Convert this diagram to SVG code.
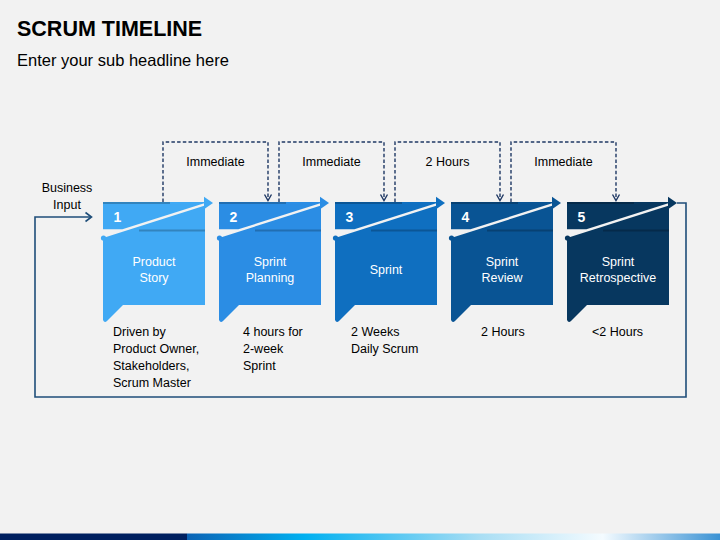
<svg xmlns="http://www.w3.org/2000/svg" xmlns:xlink="http://www.w3.org/1999/xlink" width="720" height="540" viewBox="0 0 720 540">
<style>
.title{font-family:"Liberation Sans",Arial,sans-serif;font-weight:bold;font-size:21.5px;fill:#000}
.sub{font-family:"Liberation Sans",Arial,sans-serif;font-size:16.5px;fill:#000}
.lbl{font-family:"Liberation Sans",Arial,sans-serif;font-size:12.5px;fill:#000}
.mid{text-anchor:middle}
.num{font-family:"Liberation Sans",Arial,sans-serif;font-weight:bold;font-size:14px;fill:#fff}
.in{font-family:"Liberation Sans",Arial,sans-serif;font-size:12.5px;fill:#fff;text-anchor:middle}
.dash{fill:none;stroke:#1f3864;stroke-width:1.4;stroke-dasharray:3.5 2.2}
.head{fill:none;stroke:#1f3864;stroke-width:1.4}
.fb{fill:none;stroke:#1f4e79;stroke-width:1.6}
.shade{stroke:#000;stroke-opacity:0.22;stroke-width:2}
</style>
<defs>
<linearGradient id="bar" x1="187" y1="0" x2="720" y2="0" gradientUnits="userSpaceOnUse">
<stop offset="0" stop-color="#0b63b5"/>
<stop offset="0.22" stop-color="#00b0f0"/>
<stop offset="0.55" stop-color="#a9def4"/>
<stop offset="0.78" stop-color="#f4fbff"/>
<stop offset="1" stop-color="#3a92d4"/>
</linearGradient>
<g id="card">
<polygon points="103,202 205,202 205,202.9 122.4,229.3 103,229.3" fill="currentColor"/>
<path d="M103,238 L205,205.4 L205,305 L123,305 L107,321 Q104.5,323.5 103,320 Z" fill="currentColor"/>
<polygon points="204,196.8 213,203 204,209.2" fill="currentColor"/>
<circle cx="103.5" cy="238" r="2.6" fill="currentColor"/>
<line x1="103" y1="203" x2="170" y2="203" class="shade"/>
<line x1="139" y1="230.5" x2="205" y2="230.5" class="shade"/>
</g>
</defs>
<rect width="720" height="540" fill="#f2f2f2"/>
<text x="17" y="36" class="title">SCRUM TIMELINE</text>
<text x="17" y="65.5" class="sub">Enter your sub headline here</text>

<g id="connectors">
<path class="fb" d="M677,203 H686 V397 H35 V217 H91"/>
<polyline class="fb" points="85.5,212.5 91.5,217 85.5,221.5"/>
<path class="dash" d="M163,202 V142 H268 V200"/>
<polyline class="head" points="264.5,194.5 268,200.5 271.5,194.5"/>
<path class="dash" d="M279,202 V142 H384 V200"/>
<polyline class="head" points="380.5,194.5 384,200.5 387.5,194.5"/>
<path class="dash" d="M395,202 V142 H500 V200"/>
<polyline class="head" points="496.5,194.5 500,200.5 503.5,194.5"/>
<path class="dash" d="M511,202 V142 H616 V200"/>
<polyline class="head" points="612.5,194.5 616,200.5 619.5,194.5"/>
<text x="215.5" y="165.5" class="lbl mid">Immediate</text>
<text x="331.5" y="165.5" class="lbl mid">Immediate</text>
<text x="447.5" y="165.5" class="lbl mid">2 Hours</text>
<text x="563.5" y="165.5" class="lbl mid">Immediate</text>
</g>

<g id="business-input">
<text x="67" y="191.5" class="lbl mid">Business</text>
<text x="67" y="208.5" class="lbl mid">Input</text>
</g>

<g id="node1" style="color:#40a9f4">
<use xlink:href="#card" href="#card"/>
<text x="113.5" y="222" class="num">1</text>
<text x="154" y="265.5" class="in">Product</text>
<text x="154" y="281.5" class="in">Story</text>
<text x="113" y="335.5" class="lbl">Driven by</text>
<text x="113" y="352.5" class="lbl">Product Owner,</text>
<text x="113" y="369.5" class="lbl">Stakeholders,</text>
<text x="113" y="386.5" class="lbl">Scrum Master</text>
</g>
<g id="node2" style="color:#2b8de4">
<use xlink:href="#card" href="#card" transform="translate(116,0)"/>
<text x="229.5" y="222" class="num">2</text>
<text x="270" y="265.5" class="in">Sprint</text>
<text x="270" y="281.5" class="in">Planning</text>
<text x="243" y="335.5" class="lbl">4 hours for</text>
<text x="243" y="352.5" class="lbl">2-week</text>
<text x="243" y="369.5" class="lbl">Sprint</text>
</g>
<g id="node3" style="color:#0f6fc0">
<use xlink:href="#card" href="#card" transform="translate(232,0)"/>
<text x="345.5" y="222" class="num">3</text>
<text x="386" y="273.5" class="in">Sprint</text>
<text x="351" y="335.5" class="lbl">2 Weeks</text>
<text x="351" y="352.5" class="lbl">Daily Scrum</text>
</g>
<g id="node4" style="color:#095494">
<use xlink:href="#card" href="#card" transform="translate(348,0)"/>
<text x="461.5" y="222" class="num">4</text>
<text x="502" y="265.5" class="in">Sprint</text>
<text x="502" y="281.5" class="in">Review</text>
<text x="481" y="335.5" class="lbl">2 Hours</text>
</g>
<g id="node5" style="color:#07375f">
<use xlink:href="#card" href="#card" transform="translate(464,0)"/>
<text x="577.5" y="222" class="num">5</text>
<text x="618" y="265.5" class="in">Sprint</text>
<text x="618" y="281.5" class="in">Retrospective</text>
<text x="592" y="335.5" class="lbl">&lt;2 Hours</text>
</g>

<rect x="0" y="533.5" width="187" height="6.5" fill="#002060"/>
<rect x="187" y="533.5" width="533" height="6.5" fill="url(#bar)"/>
</svg>
